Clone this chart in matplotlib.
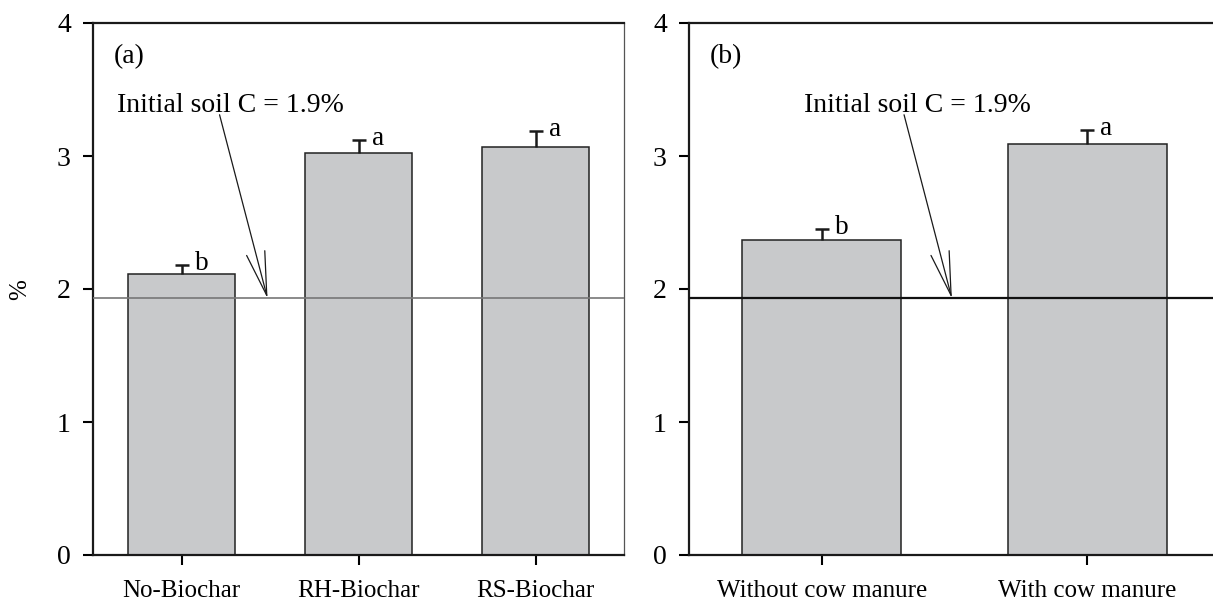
import numpy as np
import matplotlib.pyplot as plt

plt.rcParams['font.family'] = ['Liberation Serif', 'DejaVu Serif']

# panel (a): biochar treatments
biochar_names = ['No-Biochar', 'RH-Biochar', 'RS-Biochar']
biochar_mean = [2.11, 3.02, 3.07]
biochar_se = [0.07, 0.10, 0.12]
biochar_letters = ['b', 'a', 'a']

# panel (b): cow manure treatments
manure_names = ['Without cow manure', 'With cow manure']
manure_mean = [2.37, 3.09]
manure_se = [0.08, 0.105]
manure_letters = ['b', 'a']

initial_c = 1.93

bar_color = '#c8c9cb'
edge_color = '#222222'

fig = plt.figure(figsize=(12.13, 6.04), dpi=100)
W, H = 1213, 604
ax1 = fig.add_axes([93 / W, 49 / H, 531 / W, 532 / H])
ax2 = fig.add_axes([689 / W, 49 / H, 531 / W, 532 / H])


def draw_panel(ax, names, means, se, letters, tag, line_kw, txt_x, arrow_from, arrow_to):
    x = np.arange(len(names))
    ax.bar(x, means, width=0.6, color=bar_color, edgecolor=edge_color,
           linewidth=1.1, zorder=2)
    # upper error only, no cap at the bar top
    _, caps, _ = ax.errorbar(x, means, yerr=[np.zeros(len(se)), se], fmt='none',
                             ecolor='#1a1a1a', elinewidth=1.8, capsize=4.7,
                             capthick=1.8, zorder=3)
    caps[0].set_visible(False)
    for xi, m, s, lt in zip(x, means, se, letters):
        ax.annotate(lt, xy=(xi, m + s), xytext=(9.5, -3.5), textcoords='offset points',
                    ha='left', va='baseline', fontsize=19.5)
    ax.axhline(initial_c, zorder=4, **line_kw)
    ax.text(txt_x, 3.33, f'Initial soil C = {initial_c:.1f}%', ha='center',
            va='baseline', fontsize=20)
    ax.annotate('', xy=(arrow_to, initial_c), xytext=(arrow_from, 3.31),
                arrowprops=dict(arrowstyle='->,head_length=2.1,head_width=0.45',
                                mutation_scale=15, lw=0.9, color='#1a1a1a',
                                shrinkA=0, shrinkB=0))
    ax.text(0.039, 3.70, tag, ha='left', va='baseline', fontsize=20,
            transform=ax.get_yaxis_transform())

    ax.set_xlim(-0.5, len(names) - 0.5)
    ax.set_ylim(0, 4)
    ax.set_yticks([0, 1, 2, 3, 4])
    ax.set_xticks(x)
    ax.set_xticklabels(names, fontsize=18)
    ax.tick_params(axis='y', direction='out', length=7, width=1.5, pad=9, labelsize=20)
    ax.tick_params(axis='x', direction='out', length=7, width=1.5, pad=11)
    for side in ['left', 'bottom', 'top']:
        ax.spines[side].set_linewidth(1.6)
        ax.spines[side].set_color('#1a1a1a')


draw_panel(ax1, biochar_names, biochar_mean, biochar_se, biochar_letters, '(a)',
           dict(color='#777777', lw=1.2), 0.277, 0.215, 0.486)
ax1.spines['right'].set_linewidth(0.9)
ax1.spines['right'].set_color('#555555')

draw_panel(ax2, manure_names, manure_mean, manure_se, manure_letters, '(b)',
           dict(color='#111111', lw=1.6), 0.36, 0.31, 0.49)

fig.text(20 / W, 1 - 290 / H, '%', rotation=90, ha='center', va='center', fontsize=18)

fig.savefig('out.png', dpi=100)
